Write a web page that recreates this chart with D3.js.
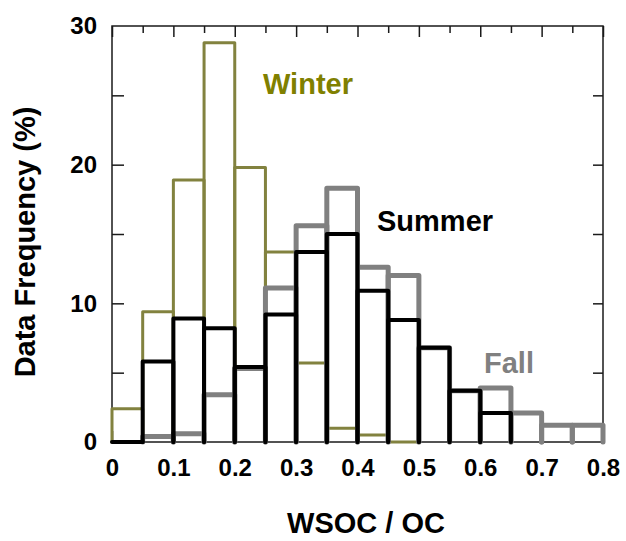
<!DOCTYPE html>
<html>
<head>
<meta charset="utf-8">
<script src="https://cdn.jsdelivr.net/npm/d3@7"></script>
<style>
  html, body { margin: 0; padding: 0; background: #fff; }
  svg { display: block; font-family: "Liberation Sans", Arial, Helvetica, sans-serif; font-weight: bold; }
</style>
</head>
<body>
<svg id="chart" width="626" height="541"></svg>
<script>
// Histogram bins of WSOC/OC ratio (bin start, width 0.05)
const binStarts = [0.00, 0.05, 0.10, 0.15, 0.20, 0.25, 0.30, 0.35,
                   0.40, 0.45, 0.50, 0.55, 0.60, 0.65, 0.70, 0.75];
const binWidth = 0.05;

// Data frequency (%) per bin for each season (null = no bar)
const winter = [2.4, 9.4, 18.9, 28.8, 19.8, 13.7, 5.7, 1.0,
                0.5, 0.0, null, null, null, null, null, null];
const fall   = [null, 0.4, 0.6, 3.4, 5.3, 11.1, 15.6, 18.3,
                12.6, 12.0, 6.8, 3.7, 3.9, 2.1, 1.2, 1.2];
const summer = [0.0, 5.8, 8.9, 8.2, 5.4, 9.2, 13.7, 15.0,
                10.9, 8.8, 6.8, 3.7, 2.1, null, null, null];

// Axis ticks
const xTickLabels = [0, 0.1, 0.2, 0.3, 0.4, 0.5, 0.6, 0.7, 0.8];
const xMinorTicks = [0.05, 0.15, 0.25, 0.35, 0.45, 0.55, 0.65, 0.75];
const yTickLabels = [0, 10, 20, 30];
const yAllTicks = [5, 10, 15, 20, 25];

const svg = d3.select("#chart");
const m = { left: 112, right: 603, top: 26, bottom: 442 };

const x = d3.scaleLinear().domain([0, 0.8]).range([m.left, m.right]);
const y = d3.scaleLinear().domain([0, 30]).range([m.bottom, m.top]);

const axisColor = "#1a1a1a";
const tickFont = "\"Liberation Sans\", Arial, sans-serif";

// Bars drawn as open outlines (no bottom edge), one path per bin
function drawSeries(values, color, width) {
  const g = svg.append("g")
    .attr("fill", "none")
    .attr("stroke", color)
    .attr("stroke-width", width)
    .attr("stroke-linejoin", "round")
    .attr("stroke-linecap", "round");
  binStarts.forEach((b, i) => {
    const v = values[i];
    if (v === null) return;
    const p = d3.path();
    p.moveTo(x(b), y(0));
    p.lineTo(x(b), y(v));
    p.lineTo(x(b + binWidth), y(v));
    p.lineTo(x(b + binWidth), y(0));
    g.append("path").attr("d", p.toString());
  });
}

function styleAxis(g) {
  g.select(".domain").remove();
  g.selectAll(".tick line").attr("stroke", axisColor).attr("stroke-width", 1.5);
  g.selectAll(".tick text")
    .attr("fill", "#000")
    .style("font-size", "24px")
    .style("font-family", tickFont)
    .style("font-weight", "bold");
}

// Top axis: ticks pointing down into the plot
svg.append("g").attr("transform", `translate(0,${m.top})`)
  .call(d3.axisTop(x).tickValues(xTickLabels).tickSize(-11).tickFormat(""))
  .call(styleAxis);
svg.append("g").attr("transform", `translate(0,${m.top})`)
  .call(d3.axisTop(x).tickValues(xMinorTicks).tickSize(-7).tickFormat(""))
  .call(styleAxis);

// Right axis: ticks pointing left
svg.append("g").attr("transform", `translate(${m.right},0)`)
  .call(d3.axisRight(y).tickValues(yAllTicks).tickSize(-10).tickFormat(""))
  .call(styleAxis);

// Left axis: inward ticks, labels outside
svg.append("g").attr("transform", `translate(${m.left},0)`)
  .call(d3.axisLeft(y).tickValues(yAllTicks).tickSize(-12).tickFormat(""))
  .call(styleAxis);
svg.append("g").attr("transform", `translate(${m.left},0)`)
  .call(d3.axisLeft(y).tickValues(yTickLabels).tickSize(0).tickPadding(15)
        .tickFormat(d3.format("d")))
  .call(styleAxis);

// Bottom axis: inward ticks, labels below
svg.append("g").attr("transform", `translate(0,${m.bottom})`)
  .call(d3.axisBottom(x).tickValues(xTickLabels).tickSize(-11).tickFormat(""))
  .call(styleAxis);
svg.append("g").attr("transform", `translate(0,${m.bottom})`)
  .call(d3.axisBottom(x).tickValues(xMinorTicks).tickSize(-7).tickFormat(""))
  .call(styleAxis);
svg.append("g").attr("transform", `translate(0,${m.bottom})`)
  .call(d3.axisBottom(x).tickValues(xTickLabels).tickSize(0).tickPadding(17)
        .tickFormat(d => d === 0 ? "0" : d3.format(".1f")(d)))
  .call(styleAxis);

// Plot frame
svg.append("rect")
  .attr("x", m.left).attr("y", m.top)
  .attr("width", m.right - m.left).attr("height", m.bottom - m.top)
  .attr("fill", "none").attr("stroke", axisColor).attr("stroke-width", 1.5);

// Season histograms
drawSeries(winter, "#82823f", 3);
drawSeries(fall, "#808080", 5);
drawSeries(summer, "#000000", 4);

// Series labels
svg.append("text").attr("x", 263).attr("y", 94).attr("fill", "#808000")
  .style("font-size", "29px").text("Winter");
svg.append("text").attr("x", 377).attr("y", 231).attr("fill", "#000")
  .style("font-size", "29px").text("Summer");
svg.append("text").attr("x", 484).attr("y", 373).attr("fill", "#808080")
  .style("font-size", "29px").text("Fall");

// Axis titles
svg.append("text").attr("x", 366).attr("y", 533).attr("text-anchor", "middle")
  .style("font-size", "29px").text("WSOC / OC");
svg.append("text").attr("transform", "translate(35,242) rotate(-90)")
  .attr("text-anchor", "middle")
  .style("font-size", "29px").text("Data Frequency (%)");
</script>
</body>
</html>
